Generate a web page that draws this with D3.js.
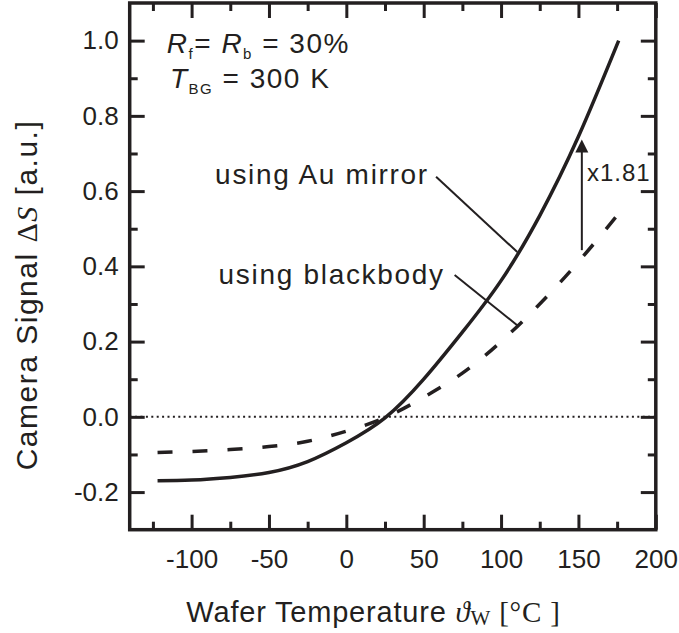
<!DOCTYPE html>
<html>
<head>
    <meta charset="UTF-8">
    <title>Camera Signal vs Wafer Temperature</title>
    <script src="https://d3js.org/d3.v7.min.js"></script>
    <style>
        body {
            margin: 0;
            background: #fff;
        }
        text {
            font-family: "Liberation Sans", Arial, Helvetica, sans-serif;
            fill: #231f20;
        }
        .serif {
            font-family: "Liberation Serif", "DejaVu Serif", serif;
        }
        .tick line {
            stroke: #231f20;
            stroke-width: 3;
        }
        .tick text {
            font-size: 26px;
        }
    </style>
</head>
<body>
    <svg id="chart"></svg>
    <script>
        const width = 679;
        const height = 633;

        // wafer temperature [°C] and camera signal [a.u.]
        const temps = [-122, -100, -75, -50, -25, 0, 25, 50, 75, 100, 125, 150, 176];
        const auMirror = [-0.170, -0.168, -0.161, -0.148, -0.119, -0.069, -0.003, 0.100, 0.225, 0.362, 0.535, 0.745, 1.000];
        const blackbody = [-0.095, -0.092, -0.087, -0.079, -0.065, -0.038, -0.002, 0.052, 0.116, 0.200, 0.300, 0.412, 0.540];

        const xTicks = [-100, -50, 0, 50, 100, 150, 200];
        const xMinor = [-125, -75, -25, 25, 75, 125, 175];
        const yTicks = [-0.2, 0.0, 0.2, 0.4, 0.6, 0.8, 1.0];
        const yMinor = [-0.1, 0.1, 0.3, 0.5, 0.7, 0.9];

        const ink = "#231f20";
        const plotLeft = 129.7, plotRight = 655.8, plotTop = 3, plotBottom = 529.7;

        const svg = d3.select("#chart")
            .attr("width", width)
            .attr("height", height);

        const x = d3.scaleLinear().domain([-140, 200]).range([plotLeft, plotRight]);
        const y = d3.scaleLinear().domain([-0.3, 1.1]).range([plotBottom, plotTop]);

        // plain hyphen instead of the unicode minus d3 uses
        const hyphen = f => d => f(d).replace("−", "-");

        // axes, ticks pointing inward on all four sides
        function addAxis(axis, tx, ty) {
            const g = svg.append("g")
                .attr("transform", `translate(${tx},${ty})`)
                .call(axis);
            g.select(".domain").remove();
            return g;
        }

        addAxis(d3.axisLeft(y).tickValues(yTicks).tickSize(-15).tickPadding(11).tickFormat(hyphen(d3.format(".1f"))), plotLeft, 0);
        addAxis(d3.axisLeft(y).tickValues(yMinor).tickSize(-8).tickFormat(""), plotLeft, 0);
        addAxis(d3.axisRight(y).tickValues(yTicks).tickSize(-15).tickFormat(""), plotRight, 0);
        addAxis(d3.axisRight(y).tickValues(yMinor).tickSize(-8).tickFormat(""), plotRight, 0);
        addAxis(d3.axisBottom(x).tickValues(xTicks).tickSize(-15).tickPadding(20).tickFormat(hyphen(d3.format("d"))), 0, plotBottom);
        addAxis(d3.axisBottom(x).tickValues(xMinor).tickSize(-8).tickFormat(""), 0, plotBottom);
        addAxis(d3.axisTop(x).tickValues(xTicks).tickSize(-15).tickFormat(""), 0, plotTop);
        addAxis(d3.axisTop(x).tickValues(xMinor).tickSize(-8).tickFormat(""), 0, plotTop);

        svg.selectAll(".tick text").attr("fill", ink);

        // zero line
        svg.append("line")
            .attr("x1", x(-140)).attr("x2", x(200))
            .attr("y1", y(0)).attr("y2", y(0))
            .attr("stroke", ink)
            .attr("stroke-width", 2)
            .attr("stroke-dasharray", "2,3.4");

        const line = d3.line()
            .x((d, i) => x(temps[i]))
            .y(d => y(d))
            .curve(d3.curveNatural);

        svg.append("path")
            .datum(blackbody)
            .attr("d", line)
            .attr("fill", "none")
            .attr("stroke", ink)
            .attr("stroke-width", 3.5)
            .attr("stroke-dasharray", "15,20");

        svg.append("path")
            .datum(auMirror)
            .attr("d", line)
            .attr("fill", "none")
            .attr("stroke", ink)
            .attr("stroke-width", 3.5);

        // frame
        svg.append("rect")
            .attr("x", plotLeft).attr("y", plotTop)
            .attr("width", plotRight - plotLeft).attr("height", plotBottom - plotTop)
            .attr("fill", "none")
            .attr("stroke", ink)
            .attr("stroke-width", 3.5);

        // leader lines
        svg.append("line")
            .attr("x1", x(58)).attr("y1", y(0.638))
            .attr("x2", x(110.5)).attr("y2", y(0.438))
            .attr("stroke", ink).attr("stroke-width", 2);
        svg.append("line")
            .attr("x1", x(70)).attr("y1", y(0.377))
            .attr("x2", x(110.6)).attr("y2", y(0.243))
            .attr("stroke", ink).attr("stroke-width", 2);

        // x1.81 arrow
        svg.append("line")
            .attr("x1", x(152.2)).attr("y1", y(0.443))
            .attr("x2", x(152.2)).attr("y2", y(0.71))
            .attr("stroke", ink).attr("stroke-width", 2);
        svg.append("path")
            .attr("d", `M${x(152.2)},${y(0.737)} l-6.5,13 l13,0 z`)
            .attr("fill", ink);

        svg.append("text")
            .attr("x", x(155.5)).attr("y", y(0.627))
            .attr("font-size", 24)
            .attr("letter-spacing", 1)
            .text("x1.81");

        svg.append("text")
            .attr("x", x(-84.8)).attr("y", y(0.62))
            .attr("font-size", 28)
            .attr("letter-spacing", 1.7)
            .text("using Au mirror");

        svg.append("text")
            .attr("x", x(-82.6)).attr("y", y(0.354))
            .attr("font-size", 28)
            .attr("letter-spacing", 1.7)
            .text("using blackbody");

        // parameters
        const p1 = svg.append("text")
            .attr("x", x(-116)).attr("y", y(0.966))
            .attr("font-size", 28)
            .attr("letter-spacing", 1.5);
        p1.append("tspan").attr("font-style", "italic").text("R");
        p1.append("tspan").attr("font-size", 15).attr("dy", 6).text("f");
        p1.append("tspan").attr("dy", -6).text("= ");
        p1.append("tspan").attr("font-style", "italic").text("R");
        p1.append("tspan").attr("font-size", 15).attr("dy", 6).text("b");
        p1.append("tspan").attr("dy", -6).text(" = 30%");

        const p2 = svg.append("text")
            .attr("x", x(-114)).attr("y", y(0.873))
            .attr("font-size", 28)
            .attr("letter-spacing", 1.5);
        p2.append("tspan").attr("font-style", "italic").text("T");
        p2.append("tspan").attr("font-size", 15).attr("dy", 6).text("BG");
        p2.append("tspan").attr("dy", -6).text(" = 300 K");

        // axis titles
        const yt = svg.append("text")
            .attr("transform", "translate(37,295) rotate(-90)")
            .attr("text-anchor", "middle")
            .attr("font-size", 30)
            .attr("letter-spacing", 1.5);
        yt.append("tspan").text("Camera Signal ");
        yt.append("tspan").attr("class", "serif").text("Δ");
        yt.append("tspan").attr("class", "serif").attr("font-style", "italic").text("S");
        yt.append("tspan").text(" [a.u.]");

        const xt = svg.append("text")
            .attr("x", 373.5).attr("y", 622)
            .attr("text-anchor", "middle")
            .attr("font-size", 29)
            .attr("letter-spacing", 0.8);
        xt.append("tspan").text("Wafer Temperature ");
        xt.append("tspan").attr("class", "serif").attr("font-style", "italic").text("ϑ");
        xt.append("tspan").attr("class", "serif").attr("font-size", 21).attr("dy", 3).text("W");
        xt.append("tspan").attr("class", "serif").attr("dy", -3).text(" [°C ]");
    </script>
</body>
</html>
